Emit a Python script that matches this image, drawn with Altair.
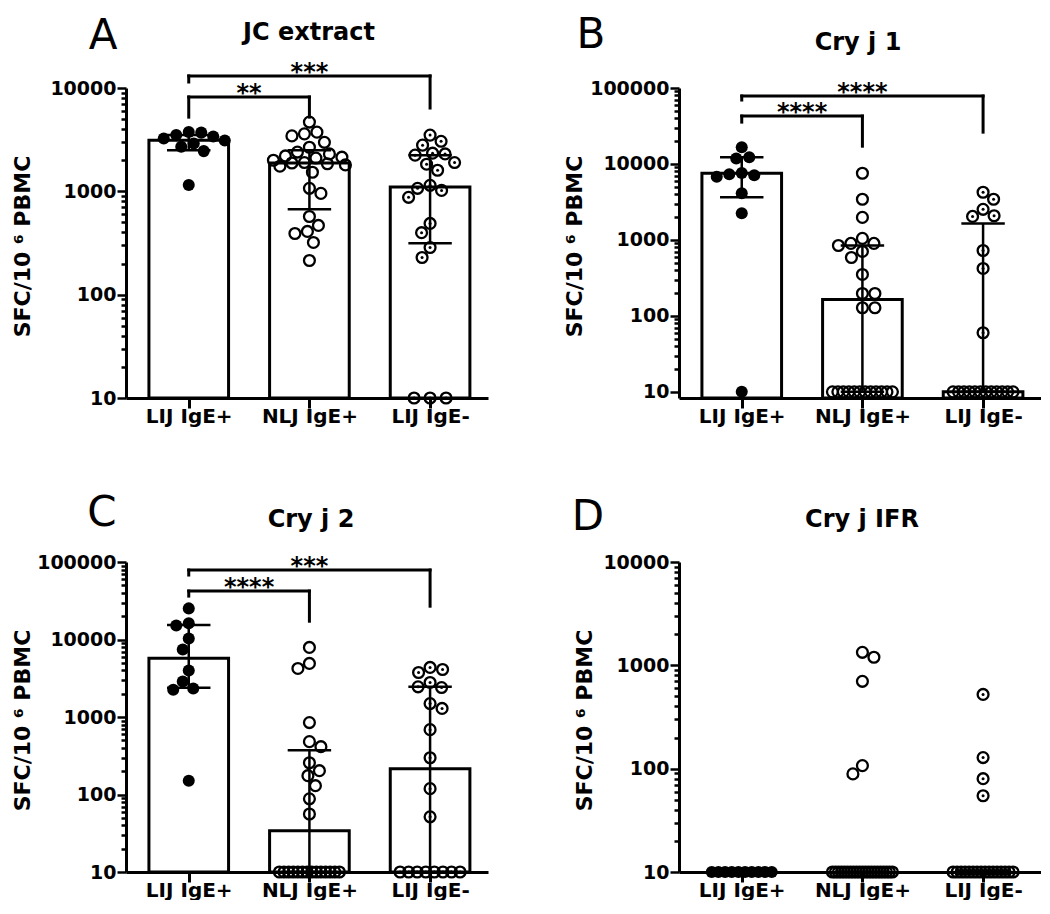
import json
import altair as alt
import numpy as np
import pandas as pd

FONT = "DejaVu Sans"
CATS = ["LIJ IgE+", "NLJ IgE+", "LIJ IgE-"]
Y_TITLE = "SFC/10 \u2076 PBMC"

# ---------------- Panel A : JC extract ----------------
A_TITLE = "JC extract"
A_LIJ_POS = [3750, 3700, 3500, 3400, 3250, 3100, 2900, 2700, 2450, 1150]
A_NLJ_POS = [4680, 3740, 3600, 3440, 2980, 2670, 2400, 2300, 2200, 2140, 2100, 2000, 1900,
             1880, 1850, 1800, 1750, 1530, 1070, 955, 571, 468, 409, 391, 320, 214]
A_LIJ_NEG = [3500, 3050, 2800, 2340, 2300, 2240, 1900, 1830, 1600, 1143, 1070, 1020, 875,
             489, 398, 286, 229, 10, 10, 10]
A_MEDIAN = [3125, 1880, 1100]
A_Q1 = [2500, 670, 315]
A_Q3 = [3500, 2500, 2240]
A_BR_FROM = [0, 0]
A_BR_TO = [1, 2]
A_BR_TOP = [8185, 13090]
A_BR_LEFT_END = [5224, 11430]
A_BR_RIGHT_END = [5224, 6400]
A_BR_LABEL = ["**", "***"]

# ---------------- Panel B : Cry j 1 ----------------
B_TITLE = "Cry j 1"
B_LIJ_POS = [16640, 12280, 11800, 7600, 7300, 7100, 6800, 4110, 2240, 10]
B_NLJ_POS = [7550, 3430, 1980, 1048, 900, 900, 845, 705, 587, 351, 197, 197, 128, 128,
             10, 10, 10, 10, 10, 10, 10, 10, 10, 10, 10, 10]
B_LIJ_NEG = [4240, 3430, 2530, 2080, 2040, 726, 421, 60,
             10, 10, 10, 10, 10, 10, 10, 10, 10, 10, 10, 10]
B_MEDIAN = [7550, 164, 10]
B_Q1 = [3640, 10, 10]
B_Q3 = [12280, 845, 1650]
B_BR_FROM = [0, 0]
B_BR_TO = [1, 2]
B_BR_TOP = [42660, 78340]
B_BR_LEFT_END = [35560, 69470]
B_BR_RIGHT_END = [17140, 26240]
B_BR_LABEL = ["****", "****"]

# ---------------- Panel C : Cry j 2 ----------------
C_TITLE = "Cry j 2"
C_LIJ_POS = [25200, 16150, 15200, 10330, 7450, 3980, 2870, 2330, 2250, 150]
C_NLJ_POS = [7900, 4910, 4230, 847, 481, 414, 257, 203, 175, 130, 88, 56,
             10, 10, 10, 10, 10, 10, 10, 10, 10, 10, 10, 10, 10, 10]
C_LIJ_NEG = [4360, 4100, 3750, 2790, 2450, 2400, 1490, 1290, 687, 298, 119, 51.5,
             10, 10, 10, 10, 10, 10, 10, 10]
C_MEDIAN = [5710, 34, 215]
C_Q1 = [2390, 10, 10]
C_Q3 = [15400, 372, 2450]
C_BR_FROM = [0, 0]
C_BR_TO = [1, 2]
C_BR_TOP = [42170, 78700]
C_BR_LEFT_END = [36300, 67900]
C_BR_RIGHT_END = [17220, 26900]
C_BR_LABEL = ["****", "***"]

# ---------------- Panel D : Cry j IFR ----------------
D_TITLE = "Cry j IFR"
D_LIJ_POS = [10, 10, 10, 10, 10, 10, 10, 10, 10, 10]
D_NLJ_POS = [1337, 1197, 700, 107, 89,
             10, 10, 10, 10, 10, 10, 10, 10, 10, 10, 10, 10, 10, 10, 10, 10, 10, 10, 10, 10, 10]
D_LIJ_NEG = [523, 128, 80, 54.7,
             10, 10, 10, 10, 10, 10, 10, 10, 10, 10, 10, 10, 10, 10, 10, 10]

# ---------------- layout ----------------
W, H = 362, 310
XDOM = [-0.52, 2.48]
PX_PER_UNIT = W / (XDOM[1] - XDOM[0])
BAR_HALF = 0.33
CAP_HALF = 0.18


def ypix(v, dom):
    lo, hi = np.log10(dom[0]), np.log10(dom[1])
    return H * (hi - np.log10(v)) / (hi - lo)


def swarm(vals, dom, d=12.5, maxhalf=36.0, rowd=16.0, rowhalf=30.0):
    vals = np.asarray(vals, float)
    n = len(vals)
    offs = np.zeros(n)
    px, py = [], []
    uniq, counts = np.unique(vals, return_counts=True)
    rowvals = set(uniq[counts >= 3].tolist())
    for rv in rowvals:
        idx = np.where(vals == rv)[0]
        k = len(idx)
        half = min((k - 1) * rowd / 2.0, rowhalf)
        xs = np.linspace(-half, half, k)
        offs[idx] = xs
        px += list(xs)
        py += [ypix(rv, dom)] * k
    rest = [i for i in np.argsort(-vals, kind="stable") if vals[i] not in rowvals]
    grid = np.arange(-maxhalf, maxhalf + 0.001, 0.5)
    flip = 1.0
    for i in rest:
        y = ypix(vals[i], dom)
        key = np.abs(grid) + 1e-6 * flip * grid
        cand = grid[np.argsort(key, kind="stable")]
        if px:
            P = np.array(px)
            Q = np.array(py)
            dist = np.hypot(cand[:, None] - P[None, :], y - Q[None, :])
            pen = np.clip(d - dist, 0, None).sum(axis=1)
            j = int(np.argmin(pen))
        else:
            j = 0
        offs[i] = cand[j]
        px.append(cand[j])
        py.append(y)
        flip = -flip
    return offs


def make_panel(title, letter, groups, dom, med, q1, q3, br, title_xy, letter_xy,
               ytitle_x, anchor=False):
    xs = alt.Scale(domain=XDOM, nice=False, zero=False)
    ys = alt.Scale(type="log", domain=dom, nice=False)
    majors = [10, 100, 1000, 10000, 100000]
    test = "indexof(%s, datum.value) >= 0" % json.dumps(majors)
    tick_vals = [m * 10 ** e for e in range(1, 6) for m in range(1, 10)
                 if dom[0] <= m * 10 ** e <= dom[1]]
    yaxis = alt.Axis(
        values=tick_vals,
        labelExpr=f"{test} ? format(datum.value, 'd') : ''",
        tickSize={"condition": {"test": test, "value": 9}, "value": 5},
        tickWidth=2.5, tickColor="black", domainColor="black", domainWidth=3,
        grid=False, labelOverlap=False, labelBound=False, labelFlush=False,
        labelFont=FONT, labelFontSize=19, labelFontWeight="bold", labelColor="black",
        labelPadding=1,
        title=Y_TITLE, titleFont=FONT, titleFontSize=22, titleFontWeight="bold",
        titleColor="black", titleAngle=270, titleX=ytitle_x, titleY=158,
        titleAlign="center", titleBaseline="middle",
    )
    xaxis = alt.Axis(
        values=[0, 1, 2],
        labelExpr="%s[datum.value]" % json.dumps(CATS),
        title=None, grid=False, tickSize=10, tickWidth=3, tickColor="black",
        domainColor="black", domainWidth=3,
        labelFont=FONT, labelFontSize=20, labelFontWeight="bold", labelColor="black",
        labelPadding=-2, labelFlush=False, labelOverlap=False, labelBound=False,
    )

    def X(f):
        return alt.X(f, type="quantitative", scale=xs, axis=xaxis)

    def Y(f):
        return alt.Y(f, type="quantitative", scale=ys, axis=yaxis)

    layers = []
    if med is not None:
        bars = pd.DataFrame({
            "x1": [i - BAR_HALF for i in range(3)],
            "x2": [i + BAR_HALF for i in range(3)],
            "top": med,
            "base": [dom[0]] * 3,
        })
        layers.append(alt.Chart(bars).mark_rect(fill="white", stroke="black", strokeWidth=3)
                      .encode(x=X("x1"), x2="x2", y=Y("top"), y2="base"))
        err = pd.DataFrame({"xc": list(range(3)), "lo": q1, "hi": q3})
        layers.append(alt.Chart(err).mark_rule(color="black", strokeWidth=2.5)
                      .encode(x=X("xc"), y=Y("lo"), y2="hi"))
        caps = pd.DataFrame({
            "xl": [i - CAP_HALF for i in range(3)] * 2,
            "xr": [i + CAP_HALF for i in range(3)] * 2,
            "q": list(q1) + list(q3),
        })
        layers.append(alt.Chart(caps).mark_rule(color="black", strokeWidth=2.5)
                      .encode(x=X("xl"), x2="xr", y=Y("q")))

    dfs = []
    for ci, vals in enumerate(groups):
        offs = swarm(vals, dom)
        dfs.append(pd.DataFrame({"x": [ci + o / PX_PER_UNIT for o in offs], "v": vals}))

    layers.append(alt.Chart(dfs[0]).mark_point(shape="circle", filled=True, size=145,
                                               color="black", opacity=1)
                  .encode(x=X("x"), y=Y("v")))
    for df in (dfs[1], dfs[2]):
        layers.append(alt.Chart(df).mark_point(shape="circle", filled=False, size=118,
                                               color="black", strokeWidth=2.3, opacity=1)
                      .encode(x=X("x"), y=Y("v")))
    layers.append(alt.Chart(dfs[2]).mark_point(shape="circle", filled=True, size=9,
                                               color="black", opacity=1)
                  .encode(x=X("x"), y=Y("v")))

    if br is not None:
        frm, to, top, lend, rend, labs = br
        segs = []
        for f, t, tp, l, r in zip(frm, to, top, lend, rend):
            segs.append({"xa": f, "xb": t, "ya": tp, "yb": tp})
            segs.append({"xa": f, "xb": f, "ya": tp, "yb": l})
            segs.append({"xa": t, "xb": t, "ya": tp, "yb": r})
        layers.append(alt.Chart(pd.DataFrame(segs))
                      .mark_rule(color="black", strokeWidth=3, strokeCap="square")
                      .encode(x=X("xa"), x2="xb", y=Y("ya"), y2="yb"))
        labdf = pd.DataFrame({"xm": [(f + t) / 2 for f, t in zip(frm, to)],
                              "y": top, "lab": labs})
        layers.append(alt.Chart(labdf).mark_text(font=FONT, fontSize=24, fontWeight="bold",
                                                 baseline="alphabetic", align="center",
                                                 dy=4, color="black")
                      .encode(x=X("xm"), y=Y("y"), text="lab:N"))

    layers.append(alt.Chart(pd.DataFrame({"t": [title]}))
                  .mark_text(font=FONT, fontSize=24, fontWeight="bold", align="center",
                             baseline="middle", color="black")
                  .encode(text="t:N", x=alt.value(title_xy[0]), y=alt.value(title_xy[1])))
    layers.append(alt.Chart(pd.DataFrame({"t": [letter]}))
                  .mark_text(font=FONT, fontSize=42, fontWeight="normal", align="center",
                             baseline="alphabetic", color="black")
                  .encode(text="t:N", x=alt.value(letter_xy[0]), y=alt.value(letter_xy[1])))
    if anchor:
        layers.append(alt.Chart(pd.DataFrame({"a": [0]}))
                      .mark_rule(color="white", strokeWidth=0.5)
                      .encode(x=alt.value(-125), x2=alt.value(-124),
                              y=alt.value(-95), y2=alt.value(-95)))
    return alt.layer(*layers).properties(width=W, height=H)


pA = make_panel(A_TITLE, "A", [A_LIJ_POS, A_NLJ_POS, A_LIJ_NEG], [10, 10000],
                A_MEDIAN, A_Q1, A_Q3,
                (A_BR_FROM, A_BR_TO, A_BR_TOP, A_BR_LEFT_END, A_BR_RIGHT_END, A_BR_LABEL),
                (183, -55), (-23, -39), -104, anchor=True)
pB = make_panel(B_TITLE, "B", [B_LIJ_POS, B_NLJ_POS, B_LIJ_NEG], [8.3, 100000],
                B_MEDIAN, B_Q1, B_Q3,
                (B_BR_FROM, B_BR_TO, B_BR_TOP, B_BR_LEFT_END, B_BR_RIGHT_END, B_BR_LABEL),
                (179, -45), (-88, -40), -105)
pC = make_panel(C_TITLE, "C", [C_LIJ_POS, C_NLJ_POS, C_LIJ_NEG], [10, 100000],
                C_MEDIAN, C_Q1, C_Q3,
                (C_BR_FROM, C_BR_TO, C_BR_TOP, C_BR_LEFT_END, C_BR_RIGHT_END, C_BR_LABEL),
                (185, -42), (-24, -36), -104)
pD = make_panel(D_TITLE, "D", [D_LIJ_POS, D_NLJ_POS, D_LIJ_NEG], [10, 10000],
                None, None, None, None,
                (183, -42), (-91, -32), -95)

chart = alt.concat(pA, pB, pC, pD, columns=2, spacing={"row": 164, "column": 191},
                   bounds="flush").properties(
    padding={"left": -8, "top": -16, "right": 0, "bottom": 0},
    background="white",
).configure_view(stroke=None)

chart.save("out.html", embed_options={"renderer": "svg", "actions": False})
